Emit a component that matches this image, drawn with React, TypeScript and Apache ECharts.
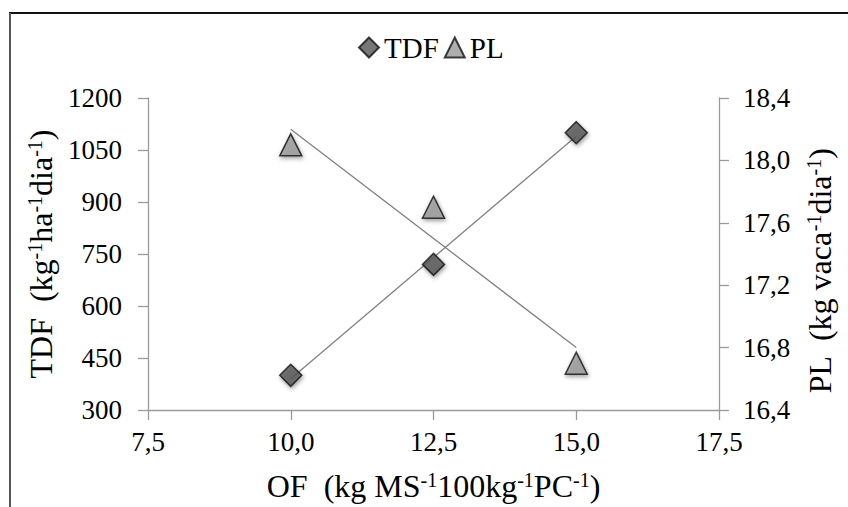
import React, { useEffect, useRef } from "react";
import * as echarts from "echarts";

const xValues = [10, 12.5, 15];
const tdfValues = [400, 720, 1100];
const plValues = [18.1, 17.7, 16.7];
const trendX = [10, 15];
const tdfTrend = [390, 1090];
const plTrend = [18.2, 16.8];
const leftTicks = { min: 300, max: 1200, interval: 150 };
const rightTicks = { min: 16.4, max: 18.4, interval: 0.4 };
const xTicks = { min: 7.5, max: 17.5, interval: 2.5 };

const FONT = "Liberation Serif";
const comma = (v: number) => v.toFixed(1).replace(".", ",");

export default function App() {
  const ref = useRef<HTMLDivElement>(null);
  useEffect(() => {
    document.body.style.margin = "0";
    const chart = echarts.init(ref.current!, undefined, { renderer: "svg" });
    const supRich = {
      n: { fontFamily: FONT, fontSize: 32, color: "#000" },
      s: { fontFamily: FONT, fontSize: 20, color: "#000", verticalAlign: "top", padding: [0, 0, 12, 0] },
    };
    const axisLine = { show: true, lineStyle: { color: "#9a9a9a", width: 1.3 } };
    const axisTick = { show: true, length: 10, lineStyle: { color: "#9a9a9a", width: 1.3 } };
    const label = { color: "#000", fontFamily: FONT, fontSize: 27 };
    chart.setOption({
      animation: false,
      backgroundColor: "#fff",
      textStyle: { fontFamily: FONT },
      legend: {
        data: ["TDF", "PL"],
        top: 28,
        left: 353,
        itemWidth: 20,
        itemHeight: 20,
        itemGap: 5,
        textStyle: { fontFamily: FONT, fontSize: 29, color: "#000" },
      },
      grid: { left: 148, right: 129, top: 98, bottom: 97 },
      xAxis: {
        type: "value",
        min: xTicks.min,
        max: xTicks.max,
        interval: xTicks.interval,
        splitLine: { show: false },
        axisLine,
        axisTick,
        axisLabel: { ...label, margin: 18, formatter: comma },
        name: "{n|OF  (kg MS}{s|-1}{n|100kg}{s|-1}{n|PC}{s|-1}{n|)}",
        nameLocation: "middle",
        nameGap: 60,
        nameTextStyle: { rich: supRich },
      },
      yAxis: [
        {
          type: "value",
          min: leftTicks.min,
          max: leftTicks.max,
          interval: leftTicks.interval,
          splitLine: { show: false },
          axisLine,
          axisTick,
          axisLabel: { ...label, margin: 26, formatter: (v: number) => String(v) },
          name: "{n|TDF  (kg}{s|-1}{n|ha}{s|-1}{n|dia}{s|-1}{n|)}",
          nameLocation: "middle",
          nameRotate: 90,
          nameGap: 90,
          nameTextStyle: { rich: supRich },
        },
        {
          type: "value",
          position: "right",
          min: rightTicks.min,
          max: rightTicks.max,
          interval: rightTicks.interval,
          splitLine: { show: false },
          axisLine,
          axisTick,
          axisLabel: { ...label, margin: 24, formatter: comma },
          name: "{n|PL  (kg vaca}{s|-1}{n|dia}{s|-1}{n|)}",
          nameLocation: "middle",
          nameRotate: 90,
          nameGap: 85,
          nameTextStyle: { rich: supRich, padding: [0, 34, 0, 0] },
        },
      ],
      series: [
        {
          name: "TDF trend",
          type: "line",
          yAxisIndex: 0,
          symbol: "none",
          lineStyle: { color: "#808080", width: 1.3 },
          data: trendX.map((x, i) => [x, tdfTrend[i]]),
          z: 1,
        },
        {
          name: "PL trend",
          type: "line",
          yAxisIndex: 1,
          symbol: "none",
          lineStyle: { color: "#808080", width: 1.3 },
          data: trendX.map((x, i) => [x, plTrend[i]]),
          z: 1,
        },
        {
          name: "TDF",
          type: "scatter",
          yAxisIndex: 0,
          symbol: "diamond",
          symbolSize: 22,
          itemStyle: {
            color: "#555555",
            borderColor: "#111",
            borderWidth: 1.5,
            shadowBlur: 4,
            shadowOffsetX: 1,
            shadowOffsetY: 2,
            shadowColor: "rgba(0,0,0,0.45)",
          },
          data: xValues.map((x, i) => [x, tdfValues[i]]),
          z: 3,
        },
        {
          name: "PL",
          type: "scatter",
          yAxisIndex: 1,
          symbol: "triangle",
          symbolSize: [22, 22],
          itemStyle: {
            color: "#9a9a9a",
            borderColor: "#111",
            borderWidth: 1.5,
            shadowBlur: 4,
            shadowOffsetX: 1,
            shadowOffsetY: 2,
            shadowColor: "rgba(0,0,0,0.45)",
          },
          data: xValues.map((x, i) => [x, plValues[i]]),
          z: 3,
        },
      ],
      graphic: [
        { type: "line", shape: { x1: 9, y1: 13, x2: 848, y2: 13 }, style: { stroke: "#111", lineWidth: 2 } },
        { type: "line", shape: { x1: 10, y1: 13, x2: 10, y2: 507 }, style: { stroke: "#555", lineWidth: 2 } },
      ],
    });
    return () => chart.dispose();
  }, []);
  return <div ref={ref} style={{ width: 848, height: 507 }} />;
}
